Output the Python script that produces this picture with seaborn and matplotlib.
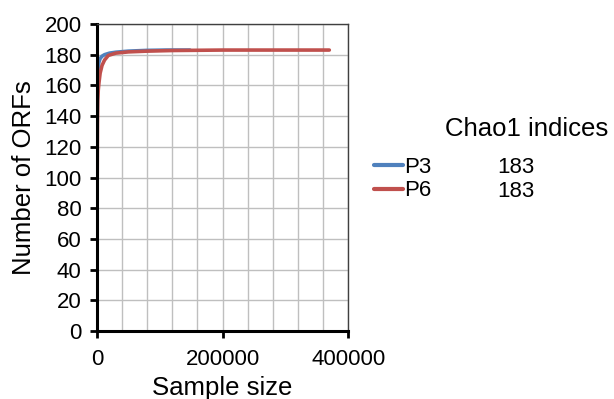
import matplotlib
matplotlib.use("Agg")
import matplotlib.pyplot as plt
import seaborn as sns
import pandas as pd
from matplotlib.lines import Line2D

# Data
p3_x = [0, 300, 700, 1200, 2000, 3000, 5000, 8000, 12000, 20000, 30000, 50000, 80000, 110000, 148000]
p3_y = [0, 140, 160, 168, 172, 175, 177.5, 179, 180, 181, 181.6, 182.3, 182.8, 183, 183]
p6_x = [0, 300, 700, 1200, 2000, 3200, 5000, 8000, 12000, 18000, 30000, 50000, 80000, 120000, 200000, 300000, 370000]
p6_y = [0, 100, 135, 150, 157, 162, 168, 173, 176.5, 179.5, 181, 181.8, 182.3, 182.7, 183, 183, 183]
series = ["P3", "P6"]
chao1 = ["183", "183"]
x_ticks = [0, 200000, 400000]
y_ticks = list(range(0, 201, 20))

df = pd.concat([
    pd.DataFrame({"x": p3_x, "y": p3_y, "s": "P3"}),
    pd.DataFrame({"x": p6_x, "y": p6_y, "s": "P6"}),
])

sns.set_style("white")
plt.rcParams['font.family'] = ['Liberation Sans', 'DejaVu Sans']
plt.rcParams.update({"text.color": "black", "axes.labelcolor": "black",
                     "xtick.color": "black", "ytick.color": "black"})
colors = {"P3": "#4F81BD", "P6": "#C0504D"}

fig = plt.figure(figsize=(6.14, 3.99), dpi=100)
ax = fig.add_axes([0.158, 0.170, 0.409, 0.770])
sns.lineplot(data=df, x="x", y="y", hue="s", palette=colors, linewidth=2.6,
             ax=ax, legend=False, sort=False, estimator=None)

ax.set_xlim(0, 400000)
ax.set_ylim(0, 200)
ax.set_xticks(x_ticks)
ax.set_xticklabels([str(t) for t in x_ticks])
ax.set_yticks(y_ticks)
ax.set_xticks(range(0, 400001, 40000), minor=True)
ax.grid(True, which="both", color="#BFBFBF", linewidth=1.0)
ax.set_axisbelow(True)
for sp in ["left", "bottom"]:
    ax.spines[sp].set_linewidth(2.2)
    ax.spines[sp].set_color("black")
for sp in ["top", "right"]:
    ax.spines[sp].set_linewidth(1.0)
    ax.spines[sp].set_color("#404040")
ax.tick_params(axis="both", which="major", direction="out", length=5, width=2,
               color="black", labelcolor="black", labelsize=16, left=True, bottom=True, pad=6)
ax.tick_params(axis="x", which="major", pad=8)
ax.tick_params(axis="x", which="minor", length=0)
ax.set_xlabel("Sample size", fontsize=18.5, labelpad=4)
ax.set_ylabel("Number of ORFs", fontsize=18.5, labelpad=6)

handles = [Line2D([0], [0], color=colors[s], linewidth=3) for s in series]
leg = fig.legend(handles, series, loc="upper left", bbox_to_anchor=(0.609, 0.607),
                 frameon=False, fontsize=16, handlelength=1.3, handletextpad=0.05,
                 labelspacing=0.12, borderaxespad=0, borderpad=0)
fig.text(0.724, 0.677, "Chao1 indices", fontsize=18.5, va="center", ha="left")
for i, v in enumerate(chao1):
    fig.text(0.810, 0.579 - i * 0.060, v, fontsize=16, va="center", ha="left")

fig.savefig("out.png", dpi=100)
